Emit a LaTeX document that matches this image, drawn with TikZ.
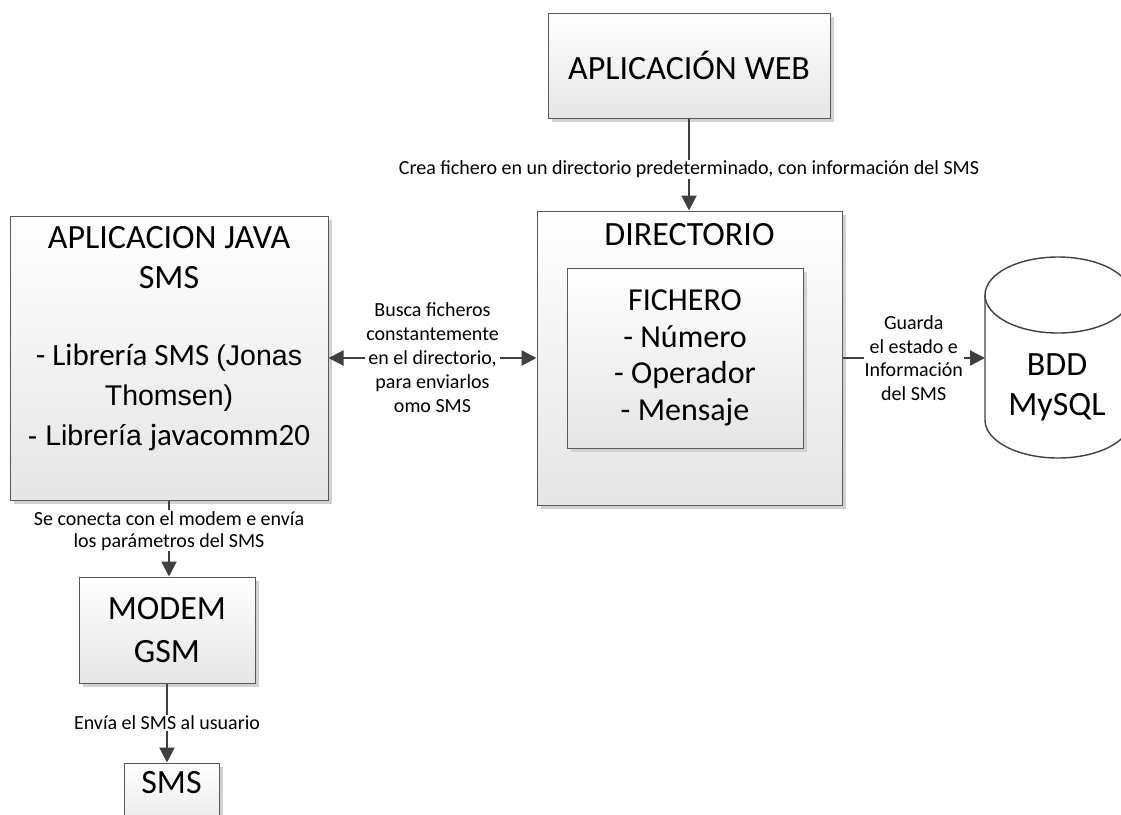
\documentclass[tikz,border=0pt]{standalone}
\usepackage{fontspec}
\setmainfont{Carlito}
\newfontfamily\arialfont{Liberation Sans}
\usetikzlibrary{arrows.meta,shadows}

\tikzset{
  caja/.style={draw=black!65, line width=1pt, top color=white, bottom color=black!10,
    drop shadow={shadow xshift=4pt, shadow yshift=-4pt, fill=black!18, opacity=1},
    align=center, inner sep=0pt},
  flecha/.style={draw=black!75, line width=2.2pt, -{Triangle[length=15pt,width=15pt]}},
  etiqueta/.style={fill=white, inner sep=1pt, align=center, font=\fontsize{20}{24}\selectfont},
  titulo/.style={align=center, font=\fontsize{34}{40}\selectfont}
}

\begin{document}
\begin{tikzpicture}[x=1pt,y=-1pt]
			%%%%% START %%%%%
			\def\ancho{1121}
			\def\alto{814}
			\def\cx{1058}
			\def\rx{73}
			\def\ry{38}
			\def\ytop{295}
			\def\ybot{420}
			\def\cal{\fontsize{31}{38}\selectfont}
			\def\ari{\arialfont\fontsize{28.5}{38}\selectfont}

			\useasboundingbox (0,0) rectangle (\ancho,\alto);
			\clip (0,0) rectangle (\ancho,\alto);

			% cajas
			\node[caja, titulo, minimum width=282, minimum height=105] (web) at (689,65.5) {APLICACIÓN WEB};

			\node[caja, minimum width=305, minimum height=294] (dir) at (689.5,358) {};
			\node[titulo] (dirtit) at (689.5,235) {DIRECTORIO};
			\node[caja, minimum width=236, minimum height=180, font=\fontsize{32}{36.5}\selectfont] (fich) at (685,358)
				{FICHERO\\- Número\\- Operador\\- Mensaje};

			\node[caja, minimum width=318, minimum height=284] (java) at (169,358) {};
			\node[titulo] (javatxt) at (169,339)
				{APLICACION JAVA\\SMS\\[37pt]{\cal - Librería SMS }{\ari(Jonas}\\{\ari Thomsen)}\\{\ari - Librería }{\cal javacomm20}};

			\node[caja, titulo, minimum width=176, minimum height=106, font=\fontsize{34}{43}\selectfont] (modem) at (167,630) {MODEM\\GSM};

			\node[caja, minimum width=95, minimum height=74] (sms) at (171.5,800) {};
			\node[titulo] (smstxt) at (171.5,783) {SMS};

			% base de datos
			\fill[white] (\cx-\rx,\ytop) -- (\cx-\rx,\ybot) arc[start angle=180, end angle=0, x radius=\rx, y radius=\ry] -- (\cx+\rx,\ytop) -- cycle;
			\draw[black!75, line width=1.4pt] (\cx-\rx,\ytop) -- (\cx-\rx,\ybot) arc[start angle=180, end angle=0, x radius=\rx, y radius=\ry] -- (\cx+\rx,\ytop);
			\draw[black!75, line width=1.4pt, fill=white] (\cx,\ytop) ellipse[x radius=\rx, y radius=\ry];
			\coordinate (bddw) at (\cx-\rx,358);
			\node[titulo] (bdd) at (1057,387) {BDD\\MySQL};

			% conectores
			\draw[flecha] (web.south) -- node[etiqueta, pos=0.55] (lweb) {Crea fichero en un directorio predeterminado, con información del SMS} (web.south |- dir.north);
			\draw[flecha, {Triangle[length=15pt,width=15pt]}-{Triangle[length=15pt,width=15pt]}] (java.east) -- node[etiqueta] (ljava)
				{Busca ficheros\\constantemente\\en el directorio,\\para enviarlos\\omo SMS} (java.east -| dir.west);
			\draw[flecha] (dir.east) -- node[etiqueta, font=\fontsize{20}{23.5}\selectfont] (lbdd) {Guarda\\el estado e\\Información\\del SMS} (bddw);
			\draw[flecha] (java.south) -- node[etiqueta, pos=0.4, font=\fontsize{20}{22}\selectfont] (lmodem)
				{Se conecta con el modem e envía\\los parámetros del SMS} (java.south |- modem.north);
			\draw[flecha] (modem.south) -- node[etiqueta] (lsms) {Envía el SMS al usuario} (modem.south |- sms.north);
			%%%%% END %%%%%
\end{tikzpicture}
\end{document}
